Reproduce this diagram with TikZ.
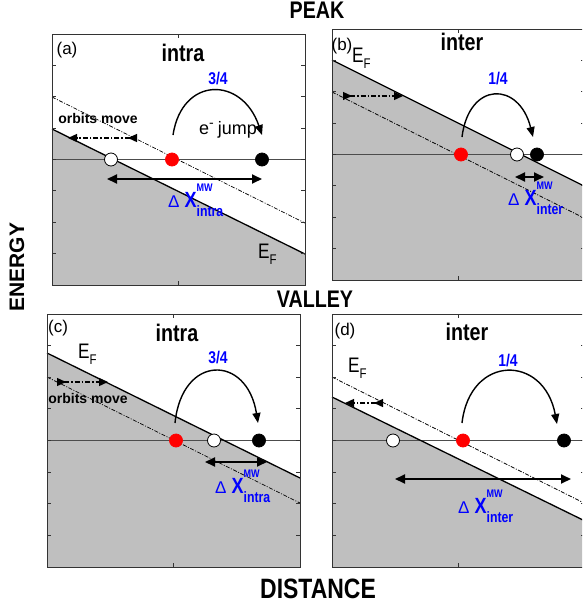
\documentclass[tikz,border=0pt]{standalone}
\usepackage{fontspec}
\setmainfont{Liberation Sans}
\newfontfamily\condf[FakeStretch=0.82]{Liberation Sans}
\usetikzlibrary{arrows.meta}
\newcommand\dxl[1]{{\fontsize{17}{17}\selectfont Δ}\hspace{5pt}{\condf\bfseries\fontsize{22}{22}\selectfont X}\rlap{\raisebox{16pt}{\condf\bfseries\fontsize{11}{11}\selectfont MW}}\raisebox{-9pt}{\condf\bfseries\fontsize{15}{15}\selectfont #1}}
\newcommand\efl{{\condf\fontsize{21}{21}\selectfont E}\raisebox{-6pt}{\condf\fontsize{14}{14}\selectfont F}}
\tikzset{
 panelbox/.style={draw=black!80, line width=0.8pt},
 efline/.style={draw=black, line width=1.3pt},
 ddline/.style={draw=black, line width=0.7pt, dash pattern=on 4pt off 1.5pt on 1pt off 1.5pt},
 hline/.style={draw=black!70, line width=1pt},
 dot/.style={circle, minimum size=13pt, inner sep=0pt, line width=0.8pt},
 reddot/.style={dot, fill=red, draw=red},
 blackdot/.style={dot, fill=black, draw=black},
 whitedot/.style={dot, fill=white, draw=black},
 jumparrow/.style={draw=black, line width=1.4pt, -{Triangle[length=10pt,width=8pt]}},
 dxarrow/.style={draw=black, line width=1.8pt, {Triangle[length=10pt,width=9pt]}-{Triangle[length=10pt,width=9pt]}},
 orbitarrow/.style={draw=black, line width=1.3pt, dash pattern=on 5pt off 2pt on 1.5pt off 2pt, {Triangle[reversed,length=9pt,width=8pt]}-{Triangle[length=9pt,width=8pt]}},
 heading/.style={font=\condf\bfseries\fontsize{24}{24}\selectfont, inner sep=0pt},
 frac/.style={font=\condf\bfseries\fontsize{17}{17}\selectfont, text=blue, inner sep=0pt},
 plabel/.style={font=\fontsize{17}{17}\selectfont, inner sep=0pt},
 ejump/.style={font=\fontsize{18}{18}\selectfont, inner sep=0pt},
 orbtext/.style={font=\bfseries\fontsize{14}{14}\selectfont, inner sep=0pt},
 lbl/.style={inner sep=0pt, anchor=base west},
 big/.style={font=\condf\bfseries\fontsize{24}{24}\selectfont, inner sep=0pt},
}
\newcommand\ticks[2]{%
 \foreach \k in {1,...,7}{\draw[panelbox] (0,\k*#2/8) -- ++(4,0); \draw[panelbox] (#1,\k*#2/8) -- ++(-4,0);}
 \draw[panelbox] (#1/2,0) -- ++(0,4); \draw[panelbox] (#1/2,#2) -- ++(0,-4);}
\begin{document}
\begin{tikzpicture}[x=1pt,y=-1pt]
\clip (0,0) rectangle (582,611);
\fill[white] (0,0) rectangle (582,611);
% ---------- (a)
\begin{scope}[shift={(52,34)}]
 \fill[gray!50] (0,95) -- (253,220) -- (253,251) -- (0,251) -- cycle;
 \draw[ddline] (0,63) -- (253,189);
 \draw[hline] (0,125.5) -- (253,125.5);
 \draw[efline] (0,95) -- (253,220);
 \draw[panelbox] (0,0) rectangle (253,251);
 \ticks{253}{251}
 \node[whitedot] (aw) at (59,125.5) {};
 \node[reddot] (ar) at (120,125.5) {};
 \node[blackdot] (ab) at (210,125.5) {};
 \coordinate (ajs) at (121,101); \coordinate (aje) at (210,101);
 \draw[jumparrow] (ajs) .. controls (130,42) and (190,42) .. (aje);
 \coordinate (adl) at (55,145); \coordinate (adr) at (210,145);
 \draw[dxarrow] (adl) -- (adr);
 \coordinate (aos) at (85,104); \coordinate (aoe) at (16,104);
 \draw[orbitarrow] (aos) -- (aoe);
 \node[heading] (ah) at (131,19) {intra};
 \node[plabel] (ap) at (15,16) {(a)};
 \node[frac] (af) at (166,45) {3/4};
 \node[ejump] (aej) at (176,96) {e\raisebox{7pt}{\fontsize{14}{14}\selectfont -}\hspace{4pt}jump};
 \node[orbtext] (aot) at (46,84) {orbits move};
 \node[lbl, text=blue] (adx) at (116,173) {\dxl{intra}};
 \node[lbl] (aef) at (206,224) {\efl};
\end{scope}
% ---------- (b)
\begin{scope}[shift={(332,29)}]
 \fill[gray!50] (0,31) -- (253,157.5) -- (253,251) -- (0,251) -- cycle;
 \draw[ddline] (0,63) -- (253,189.5);
 \draw[hline] (0,125.5) -- (253,125.5);
 \draw[efline] (0,31) -- (253,157.5);
 \draw[panelbox] (0,0) rectangle (253,251);
 \ticks{253}{251}
 \node[reddot] (br) at (129,125.5) {};
 \node[whitedot] (bw) at (185,125.5) {};
 \node[blackdot] (bb) at (205,125.5) {};
 \coordinate (bjs) at (130,108); \coordinate (bje) at (201,108);
 \draw[jumparrow] (bjs) .. controls (137,52) and (187,52) .. (bje);
 \coordinate (bdl) at (183,148); \coordinate (bdr) at (212,148);
 \draw[dxarrow] (bdl) -- (bdr);
 \coordinate (bos) at (11,67); \coordinate (boe) at (71,67);
 \draw[orbitarrow] (bos) -- (boe);
 \node[heading] (bh) at (130,13) {inter};
 \node[plabel] (bp) at (10,17) {(b)};
 \node[lbl] (bef) at (20,33) {\efl};
 \node[frac] (bf) at (166,50) {1/4};
 \node[lbl, text=blue] (bdx) at (176,176) {\dxl{inter}};
\end{scope}
% ---------- (c)
\begin{scope}[shift={(47,314)}]
 \fill[gray!50] (0,39) -- (253,164) -- (253,253) -- (0,253) -- cycle;
 \draw[ddline] (0,63) -- (253,189);
 \draw[hline] (0,126.5) -- (253,126.5);
 \draw[efline] (0,39) -- (253,164);
 \draw[panelbox] (0,0) rectangle (253,253);
 \ticks{253}{253}
 \node[reddot] (cr) at (129,126.5) {};
 \node[whitedot] (cw) at (167,126.5) {};
 \node[blackdot] (cb) at (212,126.5) {};
 \coordinate (cjs) at (128,109); \coordinate (cje) at (211,109);
 \draw[jumparrow] (cjs) .. controls (135,40) and (200,40) .. (cje);
 \coordinate (cdl) at (158,148); \coordinate (cdr) at (220,148);
 \draw[dxarrow] (cdl) -- (cdr);
 \coordinate (cos) at (10,68); \coordinate (coe) at (61,68);
 \draw[orbitarrow] (cos) -- (coe);
 \node[orbtext] (cot) at (41,84) {orbits move};
 \node[heading] (ch) at (130,19) {intra};
 \node[plabel] (cp) at (11,14) {(c)};
 \node[lbl] (cef) at (31,44) {\efl};
 \node[frac] (cf) at (171,44) {3/4};
 \node[lbl, text=blue] (cdx) at (168,179) {\dxl{intra}};
\end{scope}
% ---------- (d)
\begin{scope}[shift={(332,314)}]
 \fill[gray!50] (0,83) -- (253,207) -- (253,253) -- (0,253) -- cycle;
 \draw[ddline] (0,63) -- (253,189.5);
 \draw[hline] (0,126.5) -- (253,126.5);
 \draw[efline] (0,83) -- (253,207);
 \draw[panelbox] (0,0) rectangle (253,253);
 \ticks{253}{253}
 \node[whitedot] (dw) at (61,126.5) {};
 \node[reddot] (dr) at (131,126.5) {};
 \node[blackdot] (db) at (232,126.5) {};
 \coordinate (djs) at (130,109); \coordinate (dje) at (225,110);
 \draw[jumparrow] (djs) .. controls (138,40) and (212,40) .. (dje);
 \coordinate (ddl) at (63,165); \coordinate (ddr) at (239,165);
 \draw[dxarrow] (ddl) -- (ddr);
 \coordinate (dos) at (51,89); \coordinate (doe) at (13,89);
 \draw[orbitarrow] (dos) -- (doe);
 \node[heading] (dh) at (135,18) {inter};
 \node[plabel] (dp) at (13,17) {(d)};
 \node[lbl] (def) at (16,58) {\efl};
 \node[frac] (df) at (176,47) {1/4};
 \node[lbl, text=blue] (ddx) at (126,199) {\dxl{inter}};
\end{scope}
% ---------- global labels
\node[big] (peak) at (317,10) {PEAK};
\node[big] (valley) at (315,299) {VALLEY};
\node[font=\condf\bfseries\fontsize{28}{28}\selectfont, inner sep=0pt] (dist) at (318,589) {DISTANCE};
\node[font=\bfseries\fontsize{21}{21}\selectfont, inner sep=0pt, rotate=90] (energy) at (17,267) {ENERGY};
\end{tikzpicture}
\end{document}
